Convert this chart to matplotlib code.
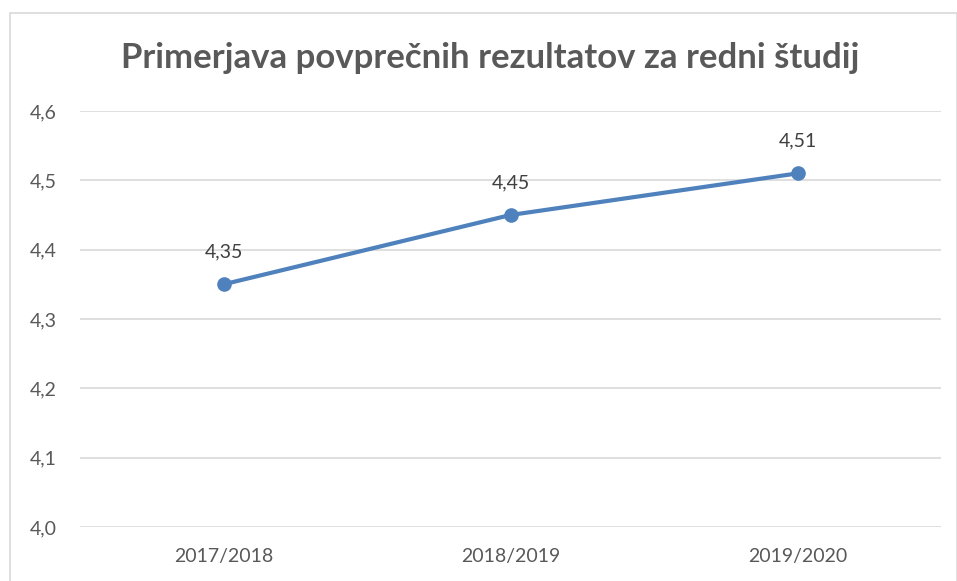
import matplotlib
matplotlib.use("Agg")
import matplotlib.pyplot as plt
from matplotlib.patches import Rectangle

categories = ["2017/2018", "2018/2019", "2019/2020"]
values = [4.35, 4.45, 4.51]
yticks = [4.0, 4.1, 4.2, 4.3, 4.4, 4.5, 4.6]
title = "Primerjava povprečnih rezultatov za redni študij"

plt.rcParams['font.family'] = ['Lato', 'DejaVu Sans']

W, H = 957, 581
fig = plt.figure(figsize=(W / 100, H / 100), dpi=100)
fig.patch.set_facecolor("white")

# outer chart border
fig.add_artist(Rectangle((10 / W, -0.01), (W - 10.5) / W, (H - 13) / H + 0.01,
                         transform=fig.transFigure, fill=False,
                         edgecolor="#d9d9d9", linewidth=1.2))

ax = fig.add_axes([80 / W, 54 / H, 861 / W, 416 / H])
x = list(range(len(categories)))
ax.plot(x, values, color="#4f81bd", linewidth=3.0, marker="o",
        markersize=9.5, markerfacecolor="#4f81bd", markeredgecolor="#4f81bd",
        solid_capstyle="round", zorder=3)
for xi, v in zip(x, values):
    ax.annotate(f"{v:.2f}".replace(".", ","), (xi, v), xytext=(0, 17),
                textcoords="offset points", ha="center", va="bottom",
                fontsize=14, color="#404040")

ax.set_xlim(-0.5, len(categories) - 0.5)
ax.set_ylim(4.0, 4.6)
ax.set_yticks(yticks)
ax.set_yticklabels([f"{t:.1f}".replace(".", ",") for t in yticks])
ax.set_xticks(x)
ax.set_xticklabels(categories)
ax.tick_params(axis="both", length=0, labelsize=14, labelcolor="#595959")
ax.tick_params(axis="y", pad=17)
ax.tick_params(axis="x", pad=15)
ax.grid(axis="y", color="#d9d9d9", linewidth=1.2)
ax.set_axisbelow(True)
for s in ax.spines.values():
    s.set_visible(False)

fig.text(490 / W, 1 - 58 / H, title, ha="center", va="center",
         fontsize=25, fontweight="bold", color="#595959")

fig.savefig("out.png", dpi=100)
